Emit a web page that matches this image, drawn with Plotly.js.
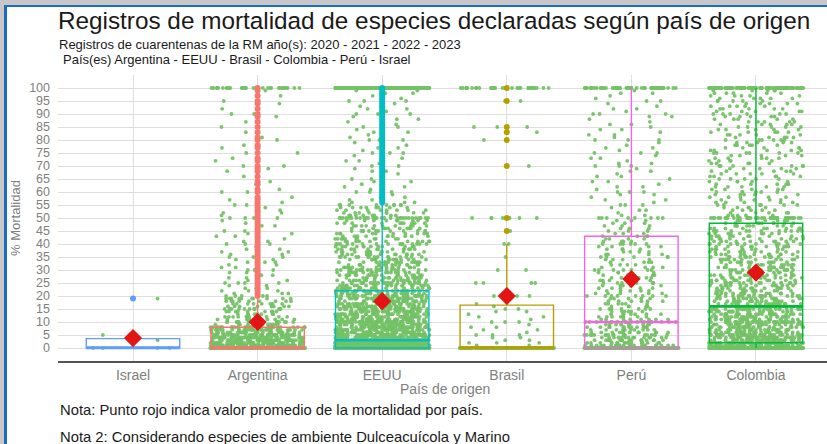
<!DOCTYPE html>
<html><head><meta charset="utf-8">
<script src="https://cdn.plot.ly/plotly-3.0.1.min.js"></script>
<style>
html,body{margin:0;padding:0;background:#fff;overflow:hidden}
#wrap{position:relative;width:827px;height:444px;overflow:hidden;background:#fff}
#chart{position:absolute;left:0;top:0;width:827px;height:444px}
.fr{position:absolute}
</style></head><body>
<div id="wrap"><div id="chart"></div>
<div class="fr" style="left:0;top:0;width:827px;height:5px;background:#c8c8c8"></div>
<div class="fr" style="left:0;top:0;width:4px;height:444px;background:#c8c8c8"></div>
<div class="fr" style="left:4px;top:5px;width:823px;height:2px;background:#1d6cc2"></div>
<div class="fr" style="left:4px;top:5px;width:2.5px;height:439px;background:#1d6cc2"></div>
</div>
<script>
// ---------- DATA ----------
const countries = ['Israel','Argentina','EEUU','Brasil','Perú','Colombia'];
const yTicks = [0,5,10,15,20,25,30,35,40,45,50,55,60,65,70,75,80,85,90,95,100];

// % mortality levels (0..100) and number of records at each level, per country
const levels = [0,
 1,2,3,4,5,6,7,8,9,10,
 11,12,13,14,15,16,17,18,19,20,
 21,22,23,24,25,26,27,28,29,30,
 31,32,33,34,35,36,37,38,39,40,
 41,42,43,44,45,46,47,48,49,50,
 51,52,53,54,55,56,57,58,59,60,
 61,62,63,64,65,66,67,68,69,70,
 71,72,73,74,75,76,77,78,79,80,
 81,82,83,84,85,86,87,88,89,90,
 91,92,93,94,95,96,97,98,99,100];

const countsIsrael = [4,
 0,0,1,0,1,0,0,0,0,0,
 0,0,0,0,0,0,0,0,1,0,
 0,0,0,0,0,0,0,0,0,0,
 0,0,0,0,0,0,0,0,0,0,
 0,0,0,0,0,0,0,0,0,0,
 0,0,0,0,0,0,0,0,0,0,
 0,0,0,0,0,0,0,0,0,0,
 0,0,0,0,0,0,0,0,0,0,
 0,0,0,0,0,0,0,0,0,0,
 0,0,0,0,0,0,0,0,0,0];

const countsArgentina = [620,
 70,55,45,40,45,32,32,31,12,18,
 9,10,9,9,11,9,8,9,10,5,
 3,3,3,2,4,2,2,3,2,4,
 2,2,3,2,3,2,2,2,1,3,
 2,1,2,2,2,1,2,1,2,4,
 1,2,1,1,2,1,1,1,0,2,
 1,0,1,1,0,1,0,1,1,2,
 0,1,1,0,2,0,1,1,0,2,
 1,0,1,0,2,0,1,0,1,2,
 0,1,0,1,1,0,1,0,1,36];

const countsEEUU = [900,
 200,170,130,60,66,50,46,44,42,50,
 38,36,35,34,38,33,32,31,30,36,
 28,36,22,20,24,19,18,18,17,20,
 15,15,15,14,15,13,13,13,12,15,
 11,11,10,10,12,10,10,10,9,30,
 8,8,8,8,9,3,2,2,1,3,
 1,2,1,2,2,1,1,2,1,3,
 1,2,1,1,3,1,2,1,1,3,
 1,1,2,1,3,1,1,2,1,3,
 1,2,1,1,3,1,1,2,2,210];

const countsBrasil = [170,
 2,3,2,2,3,1,2,2,1,3,
 1,2,1,2,2,1,1,0,0,3,
 0,0,0,0,4,0,0,0,0,2,
 0,0,0,0,1,0,0,0,0,2,
 0,0,0,0,1,0,0,0,0,10,
 0,0,0,0,0,0,0,0,0,0,
 0,0,0,0,0,0,0,0,0,1,
 0,0,0,0,0,0,0,0,0,1,
 0,0,1,0,3,0,0,0,0,0,
 0,0,0,0,2,0,0,0,0,35];

const countsPeru = [200,
 22,18,16,14,18,12,11,12,10,17,
 8,7,7,6,8,6,6,6,5,8,
 5,5,5,5,7,5,5,5,4,7,
 4,4,4,4,5,4,4,4,4,6,
 4,4,4,3,3,3,3,3,3,8,
 2,1,2,1,3,1,2,1,2,3,
 1,2,1,2,1,2,1,2,1,3,
 2,1,2,1,3,1,2,1,1,3,
 1,2,1,2,1,2,1,1,2,3,
 1,2,1,1,2,1,1,2,1,55];

const countsColombia = [300,
 60,40,38,35,40,30,28,28,25,35,
 24,24,22,22,28,21,18,17,16,20,
 15,15,14,14,16,13,13,13,12,15,
 12,12,11,11,12,11,11,10,10,12,
 10,10,10,9,11,9,9,9,6,40,
 5,5,5,5,6,5,5,5,5,6,
 5,5,5,5,5,5,5,5,5,6,
 5,5,5,5,6,5,5,5,5,6,
 5,5,5,5,5,5,5,5,5,6,
 5,5,5,5,5,5,5,5,5,100];

// box-plot statistics per country (same order as countries)
const q1 = [0, 0, 0, 0, 0, 2];
const medians = [0, 0, 3, 0, 10, 16];
const q3 = [3.6, 8, 22, 16.5, 43, 48];
const lowerWhisker = [0, 0, 0, 0, 0, 0];
const upperWhisker = [5, 19, 55, 40, 100, 100];
const means = [3.8, 10, 18, 20, 26.5, 29];

// ---------- STYLE ----------
const FONT = 'Liberation Sans, Arial, sans-serif';
const boxColors = ['#619CFF','#F8766D','#00BFC4','#B79F00','#F564E3','#00BA38'];
const GREEN = '#74c266';
const allCounts = [countsIsrael, countsArgentina, countsEEUU, countsBrasil, countsPeru, countsColombia];
// groups of levels jittered separately (keeps the jitter width even across sparse/dense zones)
const bands = [[0,0],[1,5],[6,10],[11,20],[21,35],[36,55],[56,99],[100,100]];

const traces = [];
countries.forEach((c, ci) => {
  bands.forEach(([lo, hi]) => {
    const ys = [];
    levels.forEach((v, li) => {
      if (v >= lo && v <= hi) for (let k = 0; k < allCounts[ci][li]; k++) ys.push(v);
    });
    if (!ys.length) return;
    traces.push({
      type: 'box', x: ys.map(() => c), y: ys,
      boxpoints: 'all', jitter: 1, pointpos: 0, width: 0.76,
      line: {width: 0, color: 'rgba(0,0,0,0)'}, fillcolor: 'rgba(0,0,0,0)', whiskerwidth: 0,
      marker: {color: GREEN, size: 3.8, opacity: 0.95},
      hoverinfo: 'skip', showlegend: false
    });
  });
});

countries.forEach((c, ci) => {
  traces.push({
    type: 'box', x: [c], q1: [q1[ci]], median: [medians[ci]], q3: [q3[ci]],
    lowerfence: [lowerWhisker[ci]], upperfence: [upperWhisker[ci]],
    width: 0.75, whiskerwidth: 0, boxpoints: false,
    line: {color: boxColors[ci], width: 1.4}, fillcolor: 'rgba(0,0,0,0)',
    hoverinfo: 'skip', showlegend: false
  });
  // thicker median bar (as in ggplot's fattened median)
  traces.push({
    type: 'box', x: [c], q1: [medians[ci]], median: [medians[ci]], q3: [medians[ci]],
    lowerfence: [medians[ci]], upperfence: [medians[ci]],
    width: 0.75, whiskerwidth: 0, boxpoints: false,
    line: {color: boxColors[ci], width: 2.6}, fillcolor: 'rgba(0,0,0,0)',
    hoverinfo: 'skip', showlegend: false
  });
});

countries.forEach((c, ci) => {
  const ov = levels.filter((v, li) => allCounts[ci][li] > 0 && (v > upperWhisker[ci] || v < lowerWhisker[ci]));
  if (!ov.length) return;
  traces.push({
    type: 'scatter', mode: 'markers', x: ov.map(() => c), y: ov,
    marker: {color: boxColors[ci], size: 6},
    hoverinfo: 'skip', showlegend: false
  });
});

traces.push({
  type: 'scatter', mode: 'markers', x: countries, y: means,
  marker: {symbol: 'diamond', color: '#e31414', size: 14},
  hoverinfo: 'skip', showlegend: false
});

const T = 58, PB = 361, PH = 286, PW = 769; // helpers for paper coords
const py = p => (PB - p) / PH;
const px = p => (p - T) / PW;

const layout = {
  width: 827, height: 444,
  margin: {l: 58, r: 0, t: 75, b: 83, pad: 0},
  paper_bgcolor: '#ffffff', plot_bgcolor: '#ffffff',
  boxmode: 'overlay', showlegend: false,
  font: {family: FONT},
  title: {
    text: 'Registros de mortalidad de especies declaradas según país de origen',
    xref: 'paper', x: 0, xanchor: 'left',
    yref: 'container', y: 1 - 20 / 444, yanchor: 'middle',
    font: {family: FONT, size: 24.3, color: '#1a1a1a'}
  },
  xaxis: {
    type: 'category', categoryorder: 'array', categoryarray: countries,
    range: [-0.602, 5.57], showgrid: true, gridcolor: '#dedede', gridwidth: 1,
    showline: true, linecolor: '#555555', linewidth: 2, ticks: '', zeroline: false,
    tickfont: {family: FONT, size: 14, color: '#808080'}, ticklabelstandoff: 0
  },
  yaxis: {
    range: [-5, 105], tickmode: 'array', tickvals: yTicks,
    showgrid: true, gridcolor: '#dedede', gridwidth: 1,
    zeroline: false, showline: false, ticks: '',
    tickfont: {family: FONT, size: 12.5, color: '#808080'}, ticklabelstandoff: 7
  },
  annotations: [
    {text: 'Registros de cuarentenas de la RM año(s): 2020 - 2021 - 2022 - 2023', xref: 'paper', yref: 'paper',
     x: 0, y: py(44.5), xanchor: 'left', yanchor: 'middle', showarrow: false, borderpad: 0,
     font: {family: FONT, size: 13, color: '#1a1a1a'}},
    {text: 'País(es) Argentina - EEUU - Brasil - Colombia - Perú - Israel', xref: 'paper', yref: 'paper',
     x: px(62), y: py(59.5), xanchor: 'left', yanchor: 'middle', showarrow: false, borderpad: 0,
     font: {family: FONT, size: 13, color: '#1a1a1a'}},
    {text: 'País de origen', xref: 'paper', yref: 'paper',
     x: px(445), y: py(389), xanchor: 'center', yanchor: 'middle', showarrow: false, borderpad: 0,
     font: {family: FONT, size: 14, color: '#808080'}},
    {text: '% Mortalidad', xref: 'paper', yref: 'paper', textangle: -90,
     x: px(15), y: 0.5, xanchor: 'center', yanchor: 'middle', showarrow: false,
     font: {family: FONT, size: 13, color: '#808080'}},
    {text: 'Nota: Punto rojo indica valor promedio de la mortalidad por país.', xref: 'paper', yref: 'paper',
     x: 0, y: py(410), xanchor: 'left', yanchor: 'middle', showarrow: false,
     font: {family: FONT, size: 14.8, color: '#1a1a1a'}},
    {text: 'Nota 2: Considerando especies de ambiente Dulceacuícola y Marino', xref: 'paper', yref: 'paper',
     x: 0, y: py(437), xanchor: 'left', yanchor: 'middle', showarrow: false,
     font: {family: FONT, size: 14.8, color: '#1a1a1a'}}
  ]
};

Plotly.newPlot('chart', traces, layout, {displayModeBar: false, staticPlot: true});
</script>
</body></html>
